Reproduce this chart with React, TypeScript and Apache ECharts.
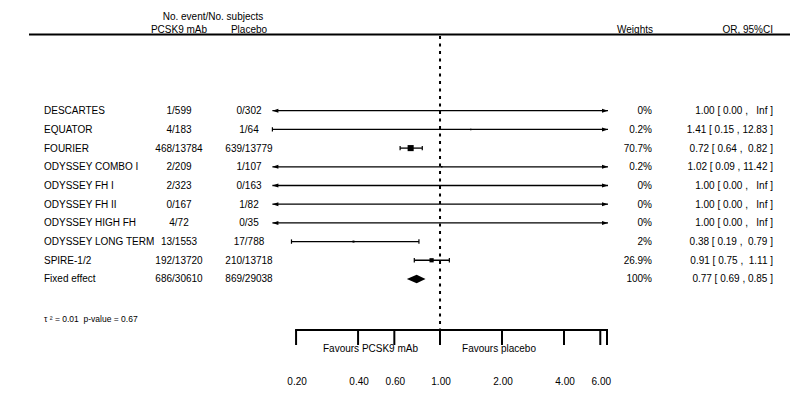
import React, { useEffect, useRef } from "react";
import * as echarts from "echarts";

const studies = ["DESCARTES", "EQUATOR", "FOURIER", "ODYSSEY COMBO I", "ODYSSEY FH I", "ODYSSEY FH II", "ODYSSEY HIGH FH", "ODYSSEY LONG TERM", "SPIRE-1/2"];
const eventsTreat = ["1/599", "4/183", "468/13784", "2/209", "2/323", "0/167", "4/72", "13/1553", "192/13720"];
const eventsPlacebo = ["0/302", "1/64", "639/13779", "1/107", "0/163", "1/82", "0/35", "17/788", "210/13718"];
const orValues = [1.0, 1.41, 0.72, 1.02, 1.0, 1.0, 1.0, 0.38, 0.91];
const ciLower = [0.0, 0.15, 0.64, 0.09, 0.0, 0.0, 0.0, 0.19, 0.75];
const ciUpper = [Infinity, 12.83, 0.82, 11.42, Infinity, Infinity, Infinity, 0.79, 1.11];
const weights = [0, 0.2, 70.7, 0.2, 0, 0, 0, 2, 26.9];
const weightLabels = ["0%", "0.2%", "70.7%", "0.2%", "0%", "0%", "0%", "2%", "26.9%"];
const ciLabels = [
  "1.00 [ 0.00 ,   Inf ]",
  "1.41 [ 0.15 , 12.83 ]",
  "0.72 [ 0.64 ,  0.82 ]",
  "1.02 [ 0.09 , 11.42 ]",
  "1.00 [ 0.00 ,   Inf ]",
  "1.00 [ 0.00 ,   Inf ]",
  "1.00 [ 0.00 ,   Inf ]",
  "0.38 [ 0.19 ,  0.79 ]",
  "0.91 [ 0.75 ,  1.11 ]",
];
const pooledName = "Fixed effect";
const pooledTreat = "686/30610";
const pooledPlacebo = "869/29038";
const pooledOR = 0.77;
const pooledLower = 0.69;
const pooledUpper = 0.85;
const pooledWeight = "100%";
const pooledLabel = "0.77 [ 0.69 , 0.85 ]";
const tickValues = [0.2, 0.4, 0.6, 1, 2, 4, 6];
const tickLabels = ["0.20", "0.40", "0.60", "1.00", "2.00", "4.00", "6.00"];
const heterogeneity = "τ ² = 0.01  p-value = 0.67";

const X_MIN = 0.1535;
const X_MAX = 6.54;
const Y_MIN = -4.05;
const Y_MAX = 11.73;
const FONT = '"Liberation Sans", Arial, Helvetica, sans-serif';

export default function App() {
  const ref = useRef<HTMLDivElement>(null);
  useEffect(() => {
    document.body.style.margin = "0";
    const chart = echarts.init(ref.current!, null, { renderer: "svg" });
    const txt = (text: string, x: number, y: number, align: string, size = 10) => ({
      type: "text",
      x,
      y,
      style: { text, fill: "#000", fontSize: size, fontFamily: FONT, align, verticalAlign: "middle" },
    });

    const rowTexts = studies.map((s, i) => [s, eventsTreat[i], eventsPlacebo[i], weightLabels[i], ciLabels[i]]);
    rowTexts.push([pooledName, pooledTreat, pooledPlacebo, pooledWeight, pooledLabel]);

    const option: any = {
      animation: false,
      grid: { left: 272.4, right: 186, top: 35, bottom: 70 },
      xAxis: { type: "log", logBase: 10, min: X_MIN, max: X_MAX, show: false },
      yAxis: { type: "value", inverse: true, min: Y_MIN, max: Y_MAX, show: false },
      series: [
        {
          type: "custom",
          name: "ref",
          data: [[1, Y_MIN]],
          renderItem: (params: any, api: any) => {
            const top = api.coord([1, Y_MIN]);
            const bot = api.coord([1, Y_MAX]);
            return {
              type: "line",
              shape: { x1: top[0], y1: top[1] + 1, x2: bot[0], y2: bot[1] },
              style: { stroke: "#000", lineWidth: 2, lineDash: [3, 4.5] },
            };
          },
        },
        {
          type: "custom",
          name: "studies",
          data: studies.map((_, i) => [orValues[i], i]),
          renderItem: (params: any, api: any) => {
            const i = params.dataIndex;
            const y = api.coord([1, i])[1];
            const lo = ciLower[i];
            const hi = ciUpper[i];
            const loArrow = lo < X_MIN * 0.9;
            const hiArrow = hi > X_MAX * 1.1;
            const xl = api.coord([Math.max(lo, X_MIN), i])[0];
            const xh = api.coord([Math.min(hi, X_MAX), i])[0];
            const children: any[] = [
              { type: "line", shape: { x1: xl, y1: y, x2: xh, y2: y }, style: { stroke: "#000", lineWidth: 1.3 } },
            ];
            if (loArrow) {
              children.push({ type: "polygon", shape: { points: [[xl, y], [xl + 6, y - 2], [xl + 6, y + 2]] }, style: { fill: "#000" } });
            } else {
              children.push({ type: "line", shape: { x1: xl, y1: y - 2.2, x2: xl, y2: y + 2.2 }, style: { stroke: "#000", lineWidth: 1.2 } });
            }
            if (hiArrow) {
              children.push({ type: "polygon", shape: { points: [[xh, y], [xh - 6, y - 2], [xh - 6, y + 2]] }, style: { fill: "#000" } });
            } else {
              children.push({ type: "line", shape: { x1: xh, y1: y - 2.2, x2: xh, y2: y + 2.2 }, style: { stroke: "#000", lineWidth: 1.2 } });
            }
            if (weights[i] > 0) {
              const c = api.coord([orValues[i], i]);
              const s = 1.2 + 0.58 * Math.sqrt(weights[i]);
              children.push({ type: "rect", shape: { x: c[0] - s / 2, y: c[1] - s / 2, width: s, height: s }, style: { fill: "#000" } });
            }
            return { type: "group", children };
          },
        },
        {
          type: "custom",
          name: "pooled",
          data: [[pooledOR, studies.length]],
          renderItem: (params: any, api: any) => {
            const row = studies.length;
            const l = api.coord([pooledLower, row]);
            const m = api.coord([pooledOR, row]);
            const r = api.coord([pooledUpper, row]);
            return {
              type: "polygon",
              shape: { points: [[l[0], l[1]], [m[0], m[1] - 4.2], [r[0], r[1]], [m[0], m[1] + 4.2]] },
              style: { fill: "#000" },
            };
          },
        },
        {
          type: "custom",
          name: "table",
          data: rowTexts.map((_, i) => [1, i]),
          renderItem: (params: any, api: any) => {
            const i = params.dataIndex;
            const y = api.coord([1, i])[1];
            const t = rowTexts[i];
            return {
              type: "group",
              children: [
                txt(t[0], 44, y, "left"),
                txt(t[1], 179, y, "center"),
                txt(t[2], 249, y, "center"),
                txt(t[3], 652, y, "right"),
                txt(t[4], 773, y, "right"),
              ],
            };
          },
        },
        {
          type: "custom",
          name: "axis",
          data: [[1, Y_MAX]],
          renderItem: (params: any, api: any) => {
            const yA = api.coord([1, Y_MAX])[1];
            const x0 = api.coord([tickValues[0], Y_MAX])[0];
            const x1 = api.coord([X_MAX, Y_MAX])[0] - 1;
            const children: any[] = [
              { type: "line", shape: { x1: x0 - 1, y1: yA, x2: x1 + 1, y2: yA }, style: { stroke: "#000", lineWidth: 2 } },
              { type: "line", shape: { x1: x1, y1: yA, x2: x1, y2: yA + 15 }, style: { stroke: "#000", lineWidth: 2 } },
            ];
            tickValues.forEach((v, k) => {
              const x = api.coord([v, Y_MAX])[0];
              children.push({ type: "line", shape: { x1: x, y1: yA, x2: x, y2: yA + 15 }, style: { stroke: "#000", lineWidth: 2 } });
              children.push(txt(tickLabels[k], x + 1, yA + 51, "center"));
            });
            const xc = api.coord([1, Y_MAX])[0];
            children.push(txt("Favours PCSK9 mAb", xc - 22, yA + 18, "right"));
            children.push(txt("Favours placebo", xc + 22, yA + 18, "left"));
            return { type: "group", children };
          },
        },
      ],
      graphic: [
        { type: "line", shape: { x1: 29, y1: 34.5, x2: 790, y2: 34.5 }, style: { stroke: "#000", lineWidth: 2 } },
        { type: "text", x: 213, y: 16, style: { text: "No. event/No. subjects", fill: "#000", fontSize: 10, fontFamily: FONT, align: "center", verticalAlign: "middle" } },
        { type: "text", x: 179, y: 29.5, style: { text: "PCSK9 mAb", fill: "#000", fontSize: 10, fontFamily: FONT, align: "center", verticalAlign: "middle" } },
        { type: "text", x: 249, y: 29.5, style: { text: "Placebo", fill: "#000", fontSize: 10, fontFamily: FONT, align: "center", verticalAlign: "middle" } },
        { type: "text", x: 635, y: 29.5, style: { text: "Weights", fill: "#000", fontSize: 10, fontFamily: FONT, align: "center", verticalAlign: "middle" } },
        { type: "text", x: 773, y: 29.5, style: { text: "OR, 95%CI", fill: "#000", fontSize: 10, fontFamily: FONT, align: "right", verticalAlign: "middle" } },
        { type: "text", x: 44, y: 319, style: { text: heterogeneity, fill: "#000", fontSize: 8.5, fontFamily: FONT, align: "left", verticalAlign: "middle" } },
      ],
    };
    chart.setOption(option);
    return () => chart.dispose();
  }, []);
  return <div ref={ref} style={{ position: "absolute", left: 0, top: 0, width: 794, height: 400, background: "#fff" }} />;
}
